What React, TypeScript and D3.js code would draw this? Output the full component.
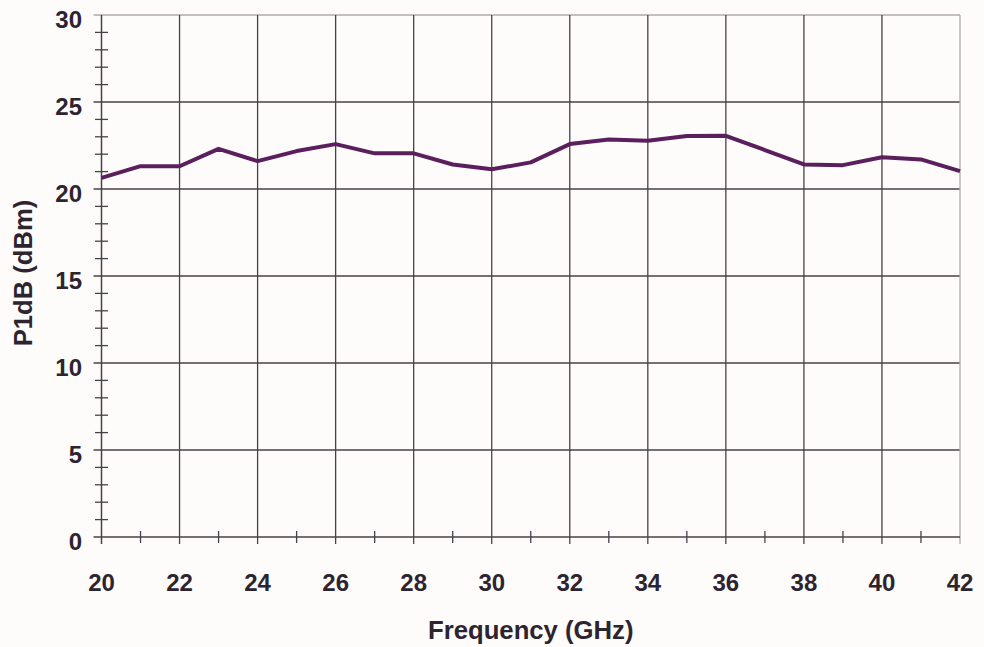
import React, { useEffect, useRef } from "react";
import * as d3 from "d3";

const freqs = [20, 21, 22, 23, 24, 25, 26, 27, 28, 29, 30, 31, 32, 33, 34, 35, 36, 37, 38, 39, 40, 41, 42];
const p1db = [20.64, 21.31, 21.31, 22.31, 21.6, 22.18, 22.58, 22.05, 22.05, 21.41, 21.13, 21.53, 22.58, 22.85, 22.77, 23.04, 23.06, 22.24, 21.41, 21.37, 21.82, 21.7, 21.03];

const xTicks = [20, 22, 24, 26, 28, 30, 32, 34, 36, 38, 40, 42];
const xMinorTicks = [21, 23, 25, 27, 29, 31, 33, 35, 37, 39, 41];
const yTicks = [0, 5, 10, 15, 20, 25, 30];
const yMinorTicks = d3.range(0, 31).filter((v) => v % 5 !== 0);

const xTitle = "Frequency (GHz)";
const yTitle = "P1dB (dBm)";

const W = 984;
const H = 647;
const margin = { top: 15, right: 24, bottom: 110, left: 101.5 };

const App = () => {
  const ref = useRef<SVGSVGElement>(null);

  useEffect(() => {
    drawChart();
  }, []);

  const drawChart = () => {
    const svg = d3.select(ref.current);
    svg.selectAll("*").remove();

    const x = d3.scaleLinear()
      .domain([20, 42])
      .range([margin.left, W - margin.right]);
    const y = d3.scaleLinear()
      .domain([0, 30])
      .range([H - margin.bottom, margin.top]);

    const dark = "#4a404a";
    const light = "#b3aaa8";
    const textColor = "#2d2430";
    const font = "'Liberation Sans', Arial, sans-serif";

    svg.append("rect")
      .attr("width", W)
      .attr("height", H)
      .attr("fill", "#fdfcfb");

    // grid
    svg.append("g")
      .selectAll("line")
      .data(yTicks.filter((v) => v > 0))
      .enter()
      .append("line")
      .attr("x1", x(20) - 8)
      .attr("x2", x(42))
      .attr("y1", (d) => y(d))
      .attr("y2", (d) => y(d))
      .attr("stroke", (d) => (d === 30 ? light : dark))
      .attr("stroke-width", 1.3);

    svg.append("g")
      .selectAll("line")
      .data(xTicks.filter((v) => v > 20))
      .enter()
      .append("line")
      .attr("x1", (d) => x(d))
      .attr("x2", (d) => x(d))
      .attr("y1", y(30))
      .attr("y2", y(0) + 7)
      .attr("stroke", (d) => (d === 42 ? light : dark))
      .attr("stroke-width", 1.3);

    // minor ticks
    svg.append("g")
      .selectAll("line")
      .data(yMinorTicks)
      .enter()
      .append("line")
      .attr("x1", x(20) - 6.5)
      .attr("x2", x(20) + 6.5)
      .attr("y1", (d) => y(d))
      .attr("y2", (d) => y(d))
      .attr("stroke", dark)
      .attr("stroke-width", 1.3);

    svg.append("g")
      .selectAll("line")
      .data(xMinorTicks)
      .enter()
      .append("line")
      .attr("x1", (d) => x(d))
      .attr("x2", (d) => x(d))
      .attr("y1", y(0) - 6)
      .attr("y2", y(0) + 6)
      .attr("stroke", dark)
      .attr("stroke-width", 1.3);

    // axes
    svg.append("line")
      .attr("x1", x(20)).attr("x2", x(20))
      .attr("y1", y(30)).attr("y2", y(0) + 7)
      .attr("stroke", dark).attr("stroke-width", 1.5);
    svg.append("line")
      .attr("x1", x(20) - 8).attr("x2", x(42))
      .attr("y1", y(0)).attr("y2", y(0))
      .attr("stroke", dark).attr("stroke-width", 1.5);

    // data line
    const line = d3.line<number>()
      .x((d, i) => x(freqs[i]))
      .y((d) => y(d));
    svg.append("path")
      .datum(p1db)
      .attr("d", line)
      .attr("fill", "none")
      .attr("stroke", "#5a1f5c")
      .attr("stroke-width", 4)
      .attr("stroke-linejoin", "round");

    // tick labels
    svg.append("g")
      .selectAll("text")
      .data(xTicks)
      .enter()
      .append("text")
      .attr("x", (d) => x(d))
      .attr("y", y(0) + 53.5)
      .attr("text-anchor", "middle")
      .attr("font-family", font)
      .attr("font-weight", "bold")
      .attr("font-size", 24)
      .attr("fill", textColor)
      .text((d) => d);

    svg.append("g")
      .selectAll("text")
      .data(yTicks)
      .enter()
      .append("text")
      .attr("x", x(20) - 19.5)
      .attr("y", (d) => y(d) + 12.5)
      .attr("text-anchor", "end")
      .attr("font-family", font)
      .attr("font-weight", "bold")
      .attr("font-size", 24)
      .attr("fill", textColor)
      .text((d) => d);

    // titles
    svg.append("text")
      .attr("x", (x(20) + x(42)) / 2)
      .attr("y", 638.5)
      .attr("text-anchor", "middle")
      .attr("font-family", font)
      .attr("font-weight", "bold")
      .attr("font-size", 25.7)
      .attr("fill", textColor)
      .text(xTitle);

    svg.append("text")
      .attr("transform", `translate(31.5,${(y(0) + y(30)) / 2 - 3}) rotate(-90)`)
      .attr("text-anchor", "middle")
      .attr("font-family", font)
      .attr("font-weight", "bold")
      .attr("font-size", 25.6)
      .attr("fill", textColor)
      .text(yTitle);
  };

  return (
    <div>
      <svg ref={ref} width={W} height={H} style={{ position: "absolute", left: 0, top: 0 }} />
    </div>
  );
};

export default App;
